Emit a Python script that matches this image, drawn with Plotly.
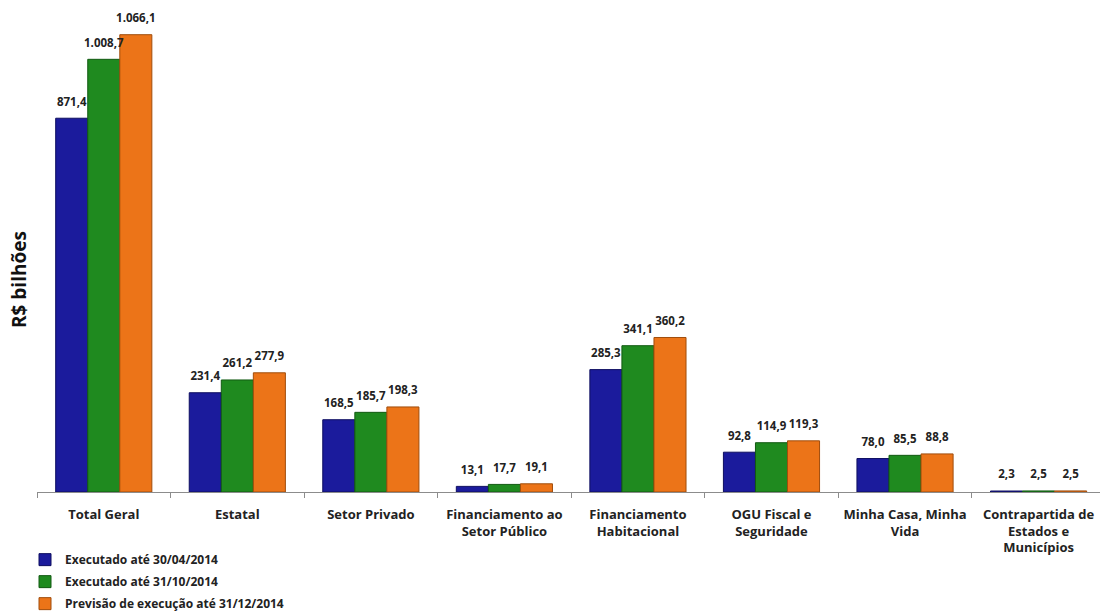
import plotly.graph_objects as go

categories = ["Total Geral", "Estatal", "Setor Privado", "Financiamento ao<br>Setor Público",
              "Financiamento<br>Habitacional", "OGU Fiscal e<br>Seguridade", "Minha Casa, Minha<br>Vida",
              "Contrapartida de<br>Estados e<br>Municípios"]
exec_abr = [871.4, 231.4, 168.5, 13.1, 285.3, 92.8, 78.0, 2.3]
exec_out = [1008.7, 261.2, 185.7, 17.7, 341.1, 114.9, 85.5, 2.5]
prev_dez = [1066.1, 277.9, 198.3, 19.1, 360.2, 119.3, 88.8, 2.5]
series_names = ["Executado até 30/04/2014", "Executado até 31/10/2014",
                "Previsão de execução até 31/12/2014"]
colors = ["#1b1b9c", "#1f8a1f", "#ec7418"]
edges = ["#0e0e60", "#125a12", "#a04d0c"]

FONT = "Open Sans"
fig = go.Figure()
series = [exec_abr, exec_out, prev_dez]
for i, (name, vals, c, e) in enumerate(zip(series_names, series, colors, edges)):
    fig.add_trace(go.Bar(
        x=categories, y=vals, name=name, legendgroup=f"g{i}",
        offsetgroup=str(i),
        marker=dict(color=c, line=dict(color=e, width=1)),
    ))
# value labels as text traces (invisible markers add a gap), drawn on top of all bars
for i, vals in enumerate(series):
    fig.add_trace(go.Scatter(
        x=categories, y=vals, mode="markers+text", offsetgroup=str(i), showlegend=False,
        marker=dict(size=14, color="rgba(0,0,0,0)"),
        texttemplate="%{y:,.1f}", textposition="top center", cliponaxis=False,
        hoverinfo="skip",
        textfont=dict(family=FONT, size=11.5, color="#222222", weight="bold"),
    ))

fig.update_layout(
    width=1100, height=612,
    margin=dict(l=37, r=0, t=0, b=120, autoexpand=False),
    paper_bgcolor="white", plot_bgcolor="white",
    separators=",.",
    barmode="group", bargap=0.28, bargroupgap=0,
    scattermode="group", scattergap=0.28,
    font=dict(family=FONT, size=12, color="#222222"),
    showlegend=True,
    legend=dict(x=-12/1063, y=-0.108, xanchor="left", yanchor="top",
                font=dict(family=FONT, size=12, color="#222222", weight="bold"),
                itemwidth=30, traceorder="grouped", tracegroupgap=3,
                bgcolor="rgba(0,0,0,0)"),
    xaxis=dict(range=[-0.5, 7.46], showline=True, linecolor="#8c8c8c", linewidth=1,
               ticks="outside", tickson="boundaries", ticklen=5, tickcolor="#8c8c8c",
               ticklabelstandoff=10,
               tickfont=dict(family=FONT, size=13, color="#222222", weight="bold"),
               showgrid=False, automargin=False),
    yaxis=dict(range=[0, 1147], visible=False, showgrid=False, automargin=False),
    annotations=[dict(text="R$ bilhões", x=-18/1063, y=(492-280)/492, xref="paper", yref="paper",
                      xanchor="center", yanchor="middle",
                      showarrow=False, textangle=-90,
                      font=dict(family=FONT, size=19, color="#111111", weight="bold"))],
)

fig.write_html("out.html", config={"displayModeBar": False},
               post_script="document.body.style.margin='0px';")
